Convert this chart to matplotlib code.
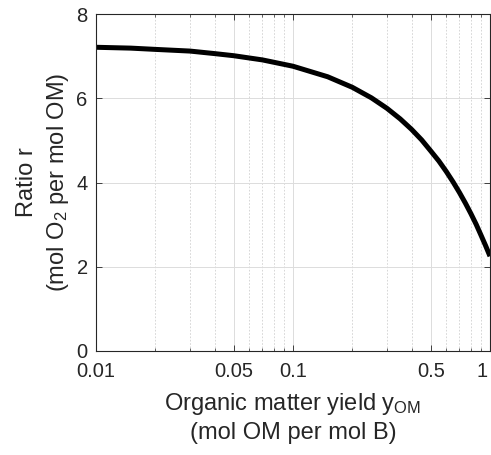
import numpy as np
from matplotlib import pyplot as plt
from matplotlib.ticker import FixedLocator, NullFormatter
from matplotlib.transforms import ScaledTranslation

plt.rcParams['font.family'] = ['Liberation Sans', 'DejaVu Sans']
plt.rcParams['mathtext.default'] = 'regular'

# values
yield_om = [0.01, 0.015, 0.02, 0.03, 0.04, 0.05, 0.07, 0.1, 0.15, 0.2, 0.25,
            0.3, 0.35, 0.4, 0.45, 0.5, 0.55, 0.6, 0.65, 0.7, 0.75, 0.8,
            0.85, 0.9, 0.95, 1.0]
ratio_r = [7.21, 7.19, 7.16, 7.12, 7.06, 7.01, 6.91, 6.76, 6.51, 6.26, 6.01,
           5.76, 5.51, 5.26, 5.01, 4.75, 4.51, 4.26, 4.01, 3.76, 3.51, 3.26,
           3.01, 2.75, 2.50, 2.25]

xticks = [0.01, 0.05, 0.1, 0.5, 1]
xticklabels = ['0.01', '0.05', '0.1', '0.5', '1']
yticks = [0, 2, 4, 6, 8]

fig = plt.figure(figsize=(4.91, 4.55), dpi=100)
ax = fig.add_axes([96 / 491, 104 / 455, 394 / 491, 337 / 455])

ax.semilogx(yield_om, ratio_r, color='black', lw=3.6, solid_capstyle='butt')

ax.set_xlim(0.01, 1)
ax.set_ylim(0, 8)
ax.set_xticks(xticks)
ax.set_xticklabels(xticklabels)
minor = [m * d for d in [0.01, 0.1] for m in range(2, 10) if m != 5]
ax.xaxis.set_minor_locator(FixedLocator(minor))
ax.xaxis.set_minor_formatter(NullFormatter())
ax.set_yticks(yticks)

ax.grid(True, which='major', color='#dcdcdc', lw=0.7, ls='-')
ax.grid(True, which='minor', axis='x', color='#d0d0d0', lw=0.6, ls=(0, (2, 2)))
ax.set_axisbelow(True)

for s in ax.spines.values():
    s.set_color('#262626')
    s.set_linewidth(0.8)
ax.tick_params(which='both', direction='in', top=True, right=True,
               colors='#262626', labelsize=14.5, labelcolor='#262626')
ax.tick_params(which='major', length=4, width=0.6)
ax.tick_params(which='minor', length=2.5, width=0.5)
ax.tick_params(axis='x', which='major', pad=8)
ax.tick_params(axis='y', which='major', pad=6)

# the last x label sits just inside the right edge
last = ax.get_xticklabels()[-1]
last.set_ha('right')
last.set_transform(last.get_transform() + ScaledTranslation(-2 / 72, 0, fig.dpi_scale_trans))

ax.set_xlabel('Organic matter yield y$_{OM}$\n(mol OM per mol B)',
              fontsize=17, color='#262626', linespacing=1.3, labelpad=7)
ax.set_ylabel('Ratio r\n(mol O$_2$ per mol OM)', fontsize=17,
              color='#262626', linespacing=1.35, labelpad=4)

plt.savefig('out.png', dpi=100)
